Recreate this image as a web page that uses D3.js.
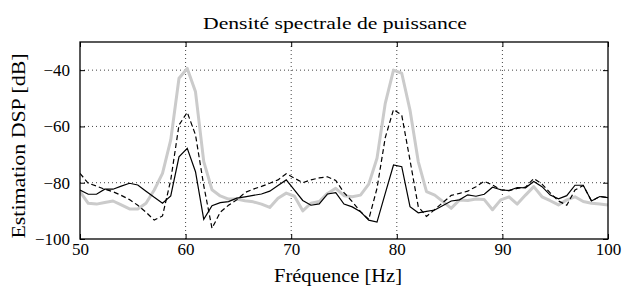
<!DOCTYPE html>
<html lang="fr">
<head>
<meta charset="UTF-8">
<title>Densité spectrale de puissance</title>
<script src="https://d3js.org/d3.v7.min.js"></script>
<style>
  body { margin: 0; background: #ffffff; }
  svg text { font-family: 'Liberation Serif', 'Times New Roman', serif; }
</style>
</head>
<body>
<svg id="chart" width="622" height="289"></svg>
<script>

// frequency bins (fs/N = 100/128 Hz), 50..100 Hz
let freqs = d3.range(64, 129).map(function(k) { return k * 100 / 128; });

// grey thick curve
let dspRef = [
  -83.2, -87.3, -87.6, -87.0, -86.5, -87.9, -89.3, -89.3, -87.3, -82.6,
  -76.7, -64.8, -42.9, -39.4, -47.7, -72.5, -82.5, -84.7, -85.8, -85.8,
  -86.4, -86.8, -87.6, -88.8, -85.5, -83.7, -84.8, -90.0, -87.3, -86.7,
  -83.8, -82.0, -84.6, -85.0, -84.4, -80.5, -71.3, -51.8, -40.0, -41.1,
  -54.2, -72.5, -83.2, -84.4, -86.7, -89.1, -86.1, -86.3, -85.8, -86.0,
  -89.6, -86.1, -85.0, -87.6, -84.4, -81.4, -85.0, -86.4, -87.9, -86.1,
  -85.0, -86.7, -87.3, -87.6, -87.9
];

// solid black curve
let dspSolid = [
  -82.6, -84.1, -84.1, -82.3, -82.3, -81.2, -80.2, -80.8, -83.0, -85.2,
  -87.3, -84.7, -70.8, -67.8, -76.1, -93.0, -88.2, -87.1, -86.7, -85.5,
  -85.0, -84.5, -84.0, -83.0, -81.0, -79.0, -82.6, -86.3, -88.0, -87.5,
  -84.0, -83.5, -87.6, -88.6, -90.3, -93.3, -94.0, -83.8, -73.7, -74.3,
  -88.5, -90.7, -90.2, -89.7, -88.1, -86.5, -86.1, -84.3, -84.8, -84.1,
  -81.6, -82.5, -82.8, -81.7, -81.8, -79.6, -81.4, -84.4, -85.7, -84.6,
  -80.9, -80.9, -86.5, -84.9, -85.3
];

// dashed black curve
let dspDashed = [
  -76.7, -80.2, -81.2, -82.3, -83.2, -84.5, -86.0, -88.0, -90.5, -93.3,
  -91.8, -79.0, -59.5, -55.0, -63.0, -81.0, -96.2, -90.5, -88.0, -86.1,
  -83.5, -82.3, -81.3, -80.2, -79.0, -76.8, -78.4, -80.0, -79.0, -78.3,
  -77.9, -79.2, -83.5, -86.7, -90.3, -93.0, -82.0, -64.0, -54.0, -56.0,
  -72.0, -88.5, -92.0, -89.5, -87.0, -84.5, -83.8, -83.0, -81.4, -79.5,
  -80.8, -82.5, -82.8, -82.0, -81.6, -78.5, -80.5, -83.6, -86.5, -88.0,
  -82.6, -81.0, -86.5, -84.9, -85.3
];

let xTicks = [50, 60, 70, 80, 90, 100];
let yTicks = [-100, -80, -60, -40];

let titleText = 'Densité spectrale de puissance';
let xLabel = 'Fréquence [Hz]';
let yLabel = 'Estimation DSP [dB]';

let serif = 'Liberation Serif';

let margin = {left: 80, right: 14, top: 42, bottom: 50};
let width = 622 - margin.left - margin.right;
let height = 289 - margin.top - margin.bottom;

let svg = d3.select('#chart');

let x = d3.scaleLinear().domain([50, 100]).range([0, width]);
let y = d3.scaleLinear().domain([-100, -30]).range([height, 0]);

svg.append('defs').append('clipPath').attr('id', 'plotClip')
  .append('rect').attr('width', width).attr('height', height);

let g = svg.append('g').attr('transform', 'translate(' + margin.left + ',' + margin.top + ')');

// dotted grid
g.selectAll('.vgrid').data(xTicks.slice(1, -1)).enter().append('line')
  .attr('x1', function(d) { return x(d); })
  .attr('x2', function(d) { return x(d); })
  .attr('y1', 0).attr('y2', height)
  .style('stroke', '#444').style('stroke-width', 1).style('stroke-dasharray', '1,3');

g.selectAll('.hgrid').data(yTicks.slice(1)).enter().append('line')
  .attr('x1', 0).attr('x2', width)
  .attr('y1', function(d) { return y(d); })
  .attr('y2', function(d) { return y(d); })
  .style('stroke', '#444').style('stroke-width', 1).style('stroke-dasharray', '1,3');

// curves
let plot = g.append('g').attr('clip-path', 'url(#plotClip)');

let line = function(values) {
  return d3.line()
    .x(function(d, i) { return x(freqs[i]); })
    .y(function(d) { return y(d); })(values);
};

plot.append('path').attr('d', line(dspRef))
  .style('fill', 'none').style('stroke', '#cbcbcb').style('stroke-width', 3)
  .style('stroke-linejoin', 'round');

plot.append('path').attr('d', line(dspDashed))
  .style('fill', 'none').style('stroke', '#000').style('stroke-width', 1.2)
  .style('stroke-dasharray', '5,3');

plot.append('path').attr('d', line(dspSolid))
  .style('fill', 'none').style('stroke', '#000').style('stroke-width', 1.2);

// axes, ticks pointing inward on all four sides
let xAxis = g.append('g').attr('transform', 'translate(0,' + height + ')')
  .call(d3.axisBottom(x).tickValues(xTicks).tickSizeInner(-5).tickSizeOuter(0).tickPadding(4));
let xTop = g.append('g')
  .call(d3.axisTop(x).tickValues(xTicks).tickSizeInner(-5).tickSizeOuter(0).tickFormat(''));
let yAxis = g.append('g')
  .call(d3.axisLeft(y).tickValues(yTicks).tickSizeInner(-5).tickSizeOuter(0).tickPadding(10)
    .tickFormat(function(d) { return String(d).replace('-', '\u2212'); }));
let yRight = g.append('g').attr('transform', 'translate(' + width + ',0)')
  .call(d3.axisRight(y).tickValues(yTicks).tickSizeInner(-5).tickSizeOuter(0).tickFormat(''));

[xAxis, xTop, yAxis, yRight].forEach(function(a) {
  a.attr('font-family', serif).attr('font-size', 17);
  a.select('.domain').remove();
  a.selectAll('line').style('stroke', '#000').style('stroke-width', 1);
  a.selectAll('text').attr('font-family', serif).style('fill', '#000');
});

// frame
g.append('rect').attr('width', width).attr('height', height)
  .style('fill', 'none').style('stroke', '#000').style('stroke-width', 1.3);

// titles
svg.append('text').attr('x', 335).attr('y', 29).attr('text-anchor', 'middle')
  .attr('font-family', serif).attr('font-size', 17.5)
  .attr('textLength', 264).attr('lengthAdjust', 'spacingAndGlyphs')
  .text(titleText);

svg.append('text').attr('x', 338).attr('y', 282).attr('text-anchor', 'middle')
  .attr('font-family', serif).attr('font-size', 18)
  .attr('textLength', 128).attr('lengthAdjust', 'spacingAndGlyphs')
  .text(xLabel);

svg.append('text').attr('transform', 'translate(25,146) rotate(-90)').attr('text-anchor', 'middle')
  .attr('font-family', serif).attr('font-size', 18.5)
  .attr('textLength', 185).attr('lengthAdjust', 'spacingAndGlyphs')
  .text(yLabel);

</script>
</body>
</html>
